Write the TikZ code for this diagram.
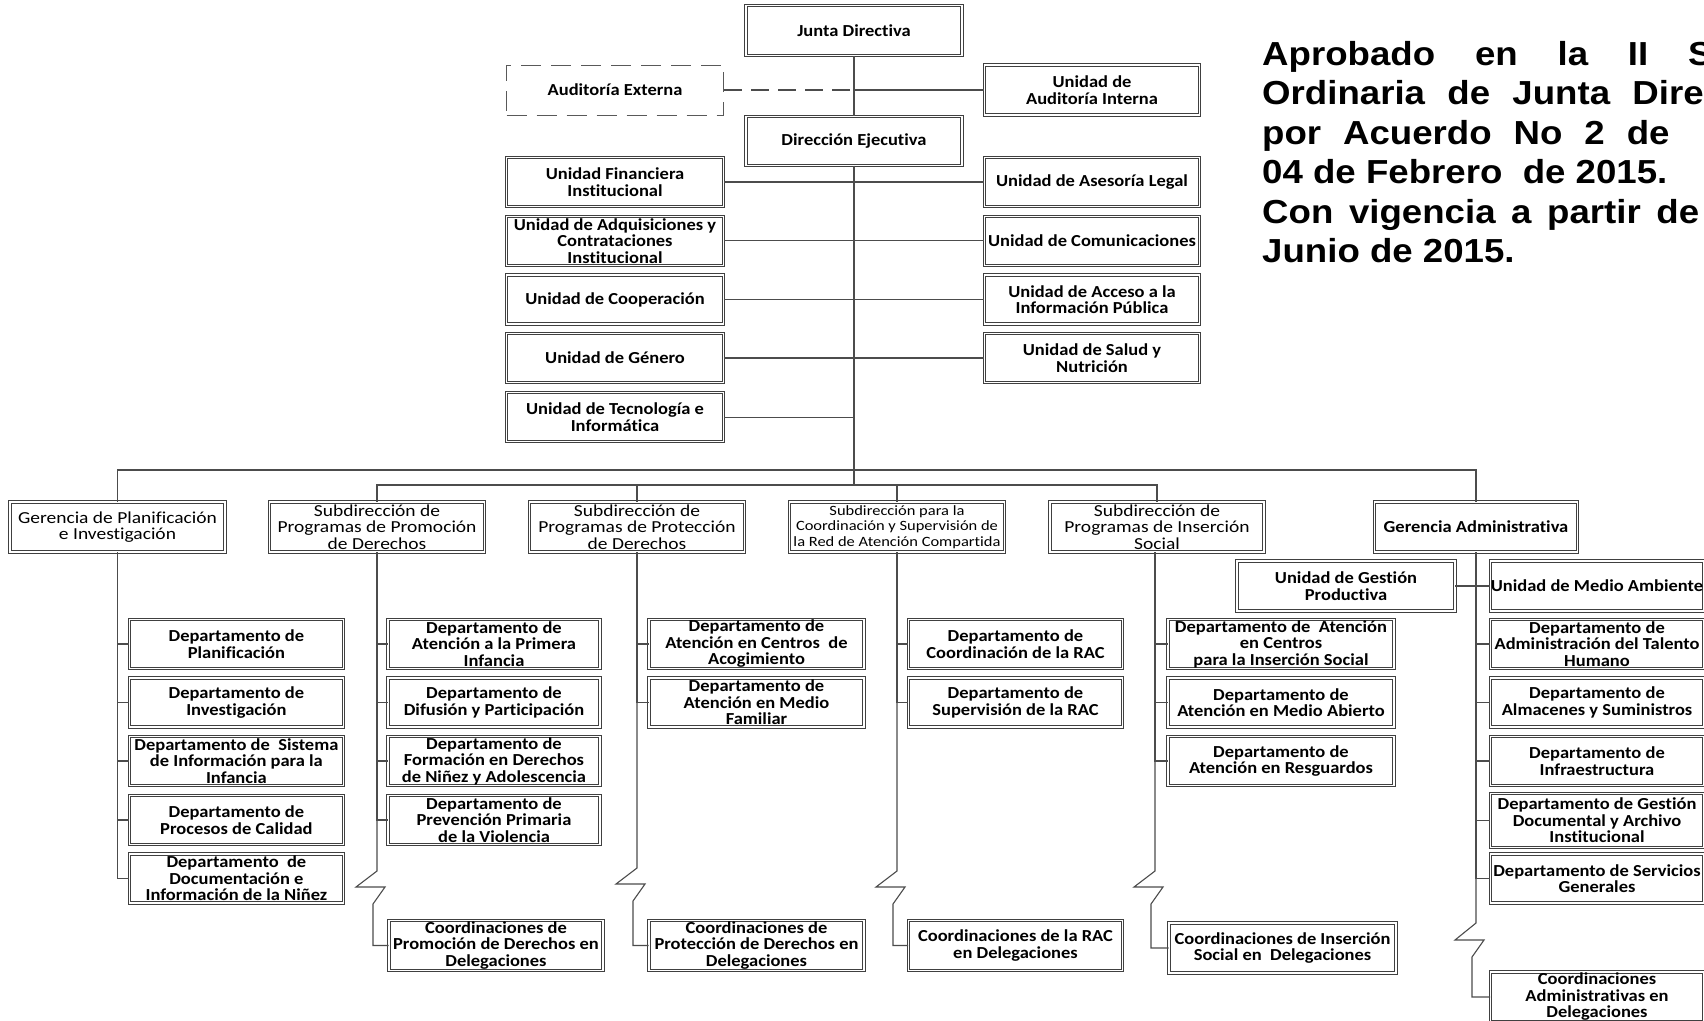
\documentclass[tikz,border=0pt]{standalone}
\usepackage{fontspec}
\setmainfont{Carlito}[FakeStretch=1.1, Ligatures={NoCommon}]
\newfontfamily\rowfont{Carlito}[FakeStretch=1.16, Ligatures={NoCommon}]
\newfontfamily\notefont{Liberation Sans}[FakeStretch=1.1]
\tikzset{
  conn/.style={draw=black!70, line width=1.1pt},
  dashconn/.style={conn, dash pattern=on 18pt off 9pt},
  ubox/.style={draw=black!75, double=white, double distance=1.3pt, line width=0.9pt, fill=white,
    inner sep=0pt, minimum height=49pt, align=center, font=\fontsize{16.8}{16.5}\selectfont\bfseries},
  bbox/.style={ubox},
  rbox/.style={ubox, font=\rowfont\fontsize{16.8}{16.5}\selectfont},
  dbox/.style={draw=black!65, line width=1pt, dash pattern=on 20pt off 10pt, fill=white,
    inner sep=0pt, minimum height=50pt, align=center, font=\fontsize{16.8}{16.5}\selectfont\bfseries},
  note/.style={inner sep=0pt, anchor=base west, font=\notefont\bfseries\fontsize{33.3}{39}\selectfont},
}
\begin{document}
\begin{tikzpicture}[x=1pt,y=-1pt]
\useasboundingbox (0,0) rectangle (1704,1020);
\clip (0,0) rectangle (1704,1020);
\fill[white] (0,0) rectangle (1704,1020);

% ---- top level
\node[ubox, minimum width=216pt, minimum height=50pt] (junta) at (854,30.5) {Junta Directiva};
\node[dbox, minimum width=217pt] (audext) at (615,90) {Auditoría Externa};
\node[ubox, minimum width=215pt, minimum height=50pt] (audint) at (1092,90) {Unidad de\\Auditoría Interna};
\node[ubox, minimum width=216pt] (dir) at (854,140.7) {Dirección Ejecutiva};

\node[ubox, minimum width=217pt] (fin)  at (615,182)   {Unidad Financiera\\Institucional};
\node[ubox, minimum width=217pt] (adq)  at (615,240.7) {Unidad de Adquisiciones y\\Contrataciones\\Institucional};
\node[ubox, minimum width=217pt] (coop) at (615,299.5) {Unidad de Cooperación};
\node[ubox, minimum width=217pt] (gen)  at (615,358)   {Unidad de Género};
\node[ubox, minimum width=217pt] (tec)  at (615,417.3) {Unidad de Tecnología e\\Informática};

\node[ubox, minimum width=215pt] (leg) at (1092,182)   {Unidad de Asesoría Legal};
\node[ubox, minimum width=215pt] (com) at (1092,240.7) {Unidad de Comunicaciones};
\node[ubox, minimum width=215pt] (acc) at (1092,299.5) {Unidad de Acceso a la\\Información Pública};
\node[ubox, minimum width=215pt] (sal) at (1092,358)   {Unidad de Salud y\\Nutrición};

\coordinate (j1) at (854,90);
\coordinate (b1) at (854,470);
\coordinate (b2) at (854,485);

\draw[conn] (junta.south) -- (dir.north);
\draw[dashconn] (audext.east) -- (j1);
\draw[conn] (j1) -- (audint.west);
\draw[conn] (dir.south) -- (b2);
\draw[conn] (fin.east) -- (leg.west);
\draw[conn] (adq.east) -- (com.west);
\draw[conn] (coop.east) -- (acc.west);
\draw[conn] (gen.east) -- (sal.west);
\draw[conn] (tec.east) -- (tec.east -| dir.south);

% ---- second level
\node[rbox, minimum width=215pt, minimum height=50pt] (gpi)  at (117.5,527) {Gerencia de Planificación\\e Investigación};
\node[rbox, minimum width=215pt, minimum height=50pt] (spd)  at (377,527)   {Subdirección de\\Programas de Promoción\\de Derechos};
\node[rbox, minimum width=215pt, minimum height=50pt] (spp)  at (637,527)   {Subdirección de\\Programas de Protección\\de Derechos};
\node[rbox, minimum width=215pt, minimum height=50pt, font=\rowfont\fontsize{14.2}{15.5}\selectfont] (srac) at (897,527)
  {Subdirección para la\\Coordinación y Supervisión de\\la Red de Atención Compartida};
\node[rbox, minimum width=214pt, minimum height=50pt] (sis)  at (1157,527)  {Subdirección de\\Programas de Inserción\\Social};
\node[bbox, minimum width=203pt, minimum height=50pt] (ga)   at (1476,527)  {Gerencia Administrativa};

\draw[conn] (gpi.north) |- (b1) -| (ga.north);
\draw[conn] (spd.north) |- (b2) -| (sis.north);
\draw[conn] (spp.north) -- (spp.north |- b2);
\draw[conn] (srac.north) -- (srac.north |- b2);

% ---- column 1
\node[bbox, minimum width=214pt] (dplan) at (236.4,644)   {Departamento de\\Planificación};
\node[bbox, minimum width=214pt] (dinv)  at (236.4,702.5) {Departamento de\\Investigación};
\node[bbox, minimum width=214pt] (dsis)  at (236.4,761)   {Departamento de\ \ Sistema\\de Información para la\\Infancia};
\node[bbox, minimum width=214pt] (dcal)  at (236.4,820)   {Departamento de\\Procesos de Calidad};
\node[bbox, minimum width=214pt] (ddoc)  at (236.4,878.5) {Departamento\ \ de\\Documentación e\\Información de la Niñez};
\foreach \n in {dplan,dinv,dsis,dcal,ddoc} \draw[conn] (gpi.south) |- (\n.west);

% ---- column 2
\node[bbox, minimum width=212pt] (dapi)  at (494,644)   {Departamento de\\Atención a la Primera\\Infancia};
\node[bbox, minimum width=212pt] (ddif)  at (494,702.5) {Departamento de\\Difusión y Participación};
\node[bbox, minimum width=212pt] (dfor)  at (494,761)   {Departamento de\\Formación en Derechos\\de Niñez y Adolescencia};
\node[bbox, minimum width=212pt] (dprev) at (494,820)   {Departamento de\\Prevención Primaria\\de la Violencia};
\node[bbox, minimum width=214pt, minimum height=50pt] (cpd) at (496,945.5) {Coordinaciones de\\Promoción de Derechos en\\Delegaciones};
\foreach \n in {dapi,ddif,dfor,dprev} \draw[conn] (spd.south) |- (\n.west);
\draw[conn] (spd.south) -- (377,871) -- (356,887) -- (385,887) -- (373,904) |- (cpd.west);

% ---- column 3
\node[bbox, minimum width=215pt] (dace) at (756.5,644)   {Departamento de\\Atención en Centros\ \ de\\Acogimiento};
\node[bbox, minimum width=215pt] (dmf)  at (756.5,702.5) {Departamento de\\Atención en Medio\\Familiar};
\node[bbox, minimum width=215pt, minimum height=50pt] (cpp) at (756.5,945.5) {Coordinaciones de\\Protección de Derechos en\\Delegaciones};
\foreach \n in {dace,dmf} \draw[conn] (spp.south) |- (\n.west);
\draw[conn] (spp.south) -- (637,868) -- (616,884) -- (645,884) -- (633,901) |- (cpp.west);

% ---- column 4
\node[bbox, minimum width=214pt] (dcrac) at (1015.5,644)   {Departamento de\\Coordinación de la RAC};
\node[bbox, minimum width=214pt] (dsrac) at (1015.5,702.5) {Departamento de\\Supervisión de la RAC};
\node[bbox, minimum width=214pt, minimum height=50pt] (crac) at (1015.5,945.5) {Coordinaciones de la RAC\\en Delegaciones};
\foreach \n in {dcrac,dsrac} \draw[conn] (srac.south) |- (\n.west);
\draw[conn] (srac.south) -- (897,871) -- (876,887) -- (905,887) -- (893,904) |- (crac.west);

% ---- column 5
\coordinate (s5) at (1155,552);
\node[bbox, minimum width=226pt] (dcis) at (1281,644)   {Departamento de\ \ Atención\\en Centros\\para la Inserción Social};
\node[bbox, minimum width=226pt] (dma)  at (1281,702.5) {Departamento de\\Atención en Medio Abierto};
\node[bbox, minimum width=226pt] (dres) at (1281,761)   {Departamento de\\Atención en Resguardos};
\node[bbox, minimum width=227pt, minimum height=50pt] (cis) at (1282.5,948) {Coordinaciones de Inserción\\Social en\ \ Delegaciones};
\foreach \n in {dcis,dma,dres} \draw[conn] (s5) |- (\n.west);
\draw[conn] (s5) -- (1155,871) -- (1134,887) -- (1163,887) -- (1151,904) |- (cis.west);

% ---- column 6
\node[bbox, minimum width=218pt, minimum height=50pt] (gp) at (1346,586) {Unidad de Gestión\\Productiva};
\node[bbox, minimum width=213pt, minimum height=50pt] (ma) at (1597,586) {Unidad de Medio Ambiente};
\node[bbox, minimum width=213pt] (dth)  at (1597,644)   {Departamento de\\Administración del Talento\\Humano};
\node[bbox, minimum width=213pt] (dalm) at (1597,702.5) {Departamento de\\Almacenes y Suministros};
\node[bbox, minimum width=213pt] (dinf) at (1597,761)   {Departamento de\\Infraestructura};
\node[bbox, minimum width=213pt, minimum height=54pt] (dgd) at (1597,820.5) {Departamento de Gestión\\Documental y Archivo\\Institucional};
\node[bbox, minimum width=213pt] (dsg)  at (1597,878.5) {Departamento de Servicios\\Generales};
\node[bbox, minimum width=213pt, minimum height=50pt] (cad) at (1597,997) {Coordinaciones\\Administrativas en\\Delegaciones};
\draw[conn] (gp.east) -- (ma.west);
\foreach \n in {dth,dalm,dinf,dgd,dsg} \draw[conn] (ga.south) |- (\n.west);
\draw[conn] (ga.south) -- (1476,923) -- (1455,940) -- (1484,940) -- (1472,957) |- (cad.west);

% ---- note
\node[note] (n1) at (1262,65)    {\makebox[546pt][s]{Aprobado en la II Sesión}};
\node[note] (n2) at (1262,104.5) {\makebox[525pt][s]{Ordinaria de Junta Directiva}};
\node[note] (n3) at (1262,144)   {\makebox[543pt][s]{por Acuerdo No 2 de\hspace{18pt} fecha}};
\node[note] (n4) at (1262,183.5) {04 de Febrero\ \ de 2015.};
\node[note] (n5) at (1262,223)   {\makebox[437pt][s]{Con vigencia a partir de}};
\node[note] (n6) at (1262,262.5) {Junio de 2015.};
\end{tikzpicture}
\end{document}
